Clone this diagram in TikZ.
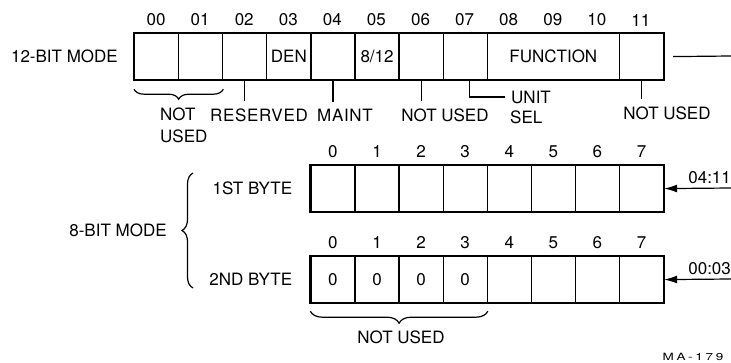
\documentclass[tikz,border=0pt]{standalone}
\usepackage{fontspec}
\setmainfont{TeX Gyre Heros}
\usetikzlibrary{arrows.meta, positioning, decorations.pathreplacing}

\begin{document}
\begin{tikzpicture}[
    x=1pt, y=-1pt,
    font=\fontsize{17}{21.5}\selectfont,
    cell/.style={draw, line width=1.2pt, minimum width=44.08pt, minimum height=46pt, inner sep=0pt, anchor=north west},
    frame/.style={line width=2.2pt},
    bitnum/.style={inner sep=1pt},
    lbl/.style={inner sep=1pt},
    wide/.style={font=\fontsize{17}{21.5}\selectfont\addfontfeatures{LetterSpace=4}},
    lead/.style={line width=1.2pt},
    brc/.style={line width=1.2pt, decorate, decoration={brace, amplitude=#1}},
    brc/.default=10pt,
    arr/.style={-{Latex[length=13pt, width=8pt]}, line width=1.2pt}
  ]
  \useasboundingbox (0,0) rectangle (731,363);

  % 12-bit register
  \foreach \i/\t in {0/,1/,2/,3/DEN,4/,5/{8/12},6/,7/}
    \node[cell] (t\i) at ({134+44.08*\i},33) {\t};
  \node[cell, minimum width=132.24pt] (func) at ({134+44.08*8},33) {FUNCTION};
  \node[cell] (t11) at ({134+44.08*11},33) {};
  \draw[frame] (t0.north west) rectangle (t11.south east);
  \foreach \i/\b in {0/00,1/01,2/02,3/03,4/04,5/05,6/06,7/07,8/08,9/09,10/10,11/11}
    \node[bitnum] (n\i) at ({156.04+44.08*\i},20) {\b};

  \node[lbl, left=15pt of t0] (mode12) {12-BIT MODE};
  \coordinate (out) at (731,56);
  \draw[lead] ([xshift=9pt]t11.east) -- (out);

  % field labels
  \draw[brc=10pt] ([yshift=-9pt]t1.south east) -- ([yshift=-9pt]t0.south west);
  \node[lbl, align=left, anchor=north west] (unused) at (159,107) {NOT\\USED};
  \node[lbl, wide] (reserved) at (259,115) {RESERVED};
  \node[lbl, wide] (maint) at (345,115) {MAINT};
  \node[lbl] (unused6) at (445,115) {NOT USED};
  \node[lbl] (unused11) at (667,113) {NOT USED};
  \node[lbl, anchor=west] (unit) at (510,97) {UNIT};
  \node[lbl, anchor=west] (sel) at (509,117) {SEL};

  \draw[lead, shorten >=6pt] (t2.south) -- (t2.south |- reserved.north);
  \draw[lead, shorten >=6pt] (t4.south) -- (t4.south |- maint.north);
  \draw[lead, shorten >=6pt] (t6.south) -- (t6.south |- unused6.north);
  \draw[lead, shorten >=6pt] (t11.south) -- (t11.south |- unused11.north);
  \draw[lead] ([xshift=4pt]t7.south) |- ([xshift=-5pt]unit.west);

  % 8-bit mode, first byte
  \foreach \i in {0,...,7} {
    \node[cell] (a\i) at ({310.32+44.08*\i},165) {};
    \node[bitnum, above=6pt of a\i] (na\i) {\i};
  }
  \draw[frame] (a0.north west) rectangle (a7.south east);
  \node[lbl, left=17pt of a0] (byte1) {1ST BYTE};
  \coordinate (ina) at (731,188);
  \draw[arr] (ina) -- node[lbl, above=3pt, pos=0.32] {04:11} (a7.east);

  % second byte
  \foreach \i/\t in {0/0,1/0,2/0,3/0,4/,5/,6/,7/} {
    \node[cell] (b\i) at ({310.32+44.08*\i},256) {\t};
    \node[bitnum, above=6pt of b\i] (nb\i) {\i};
  }
  \draw[frame] (b0.north west) rectangle (b7.south east);
  \node[lbl, left=17pt of b0] (byte2) {2ND BYTE};
  \coordinate (inb) at (731,279);
  \draw[arr] (inb) -- node[lbl, above=3pt, pos=0.32] {00:03} (b7.east);

  \draw[brc=12pt] ([yshift=-8pt]b3.south east) -- ([yshift=-8pt]b0.south west);
  \node[lbl] (unusedb) at (401,337) {NOT USED};

  \coordinate (bt) at (193,173);
  \coordinate (bb) at (193,288);
  \draw[brc=11pt] (bb) -- (bt);
  \node[lbl] (mode8) at (118,230) {8-BIT MODE};

  \node[lbl] (tag) at (693,357) {\fontsize{10}{12}\selectfont\scalebox{1.35}[1]{\addfontfeatures{LetterSpace=20}MA-179}};
\end{tikzpicture}
\end{document}
